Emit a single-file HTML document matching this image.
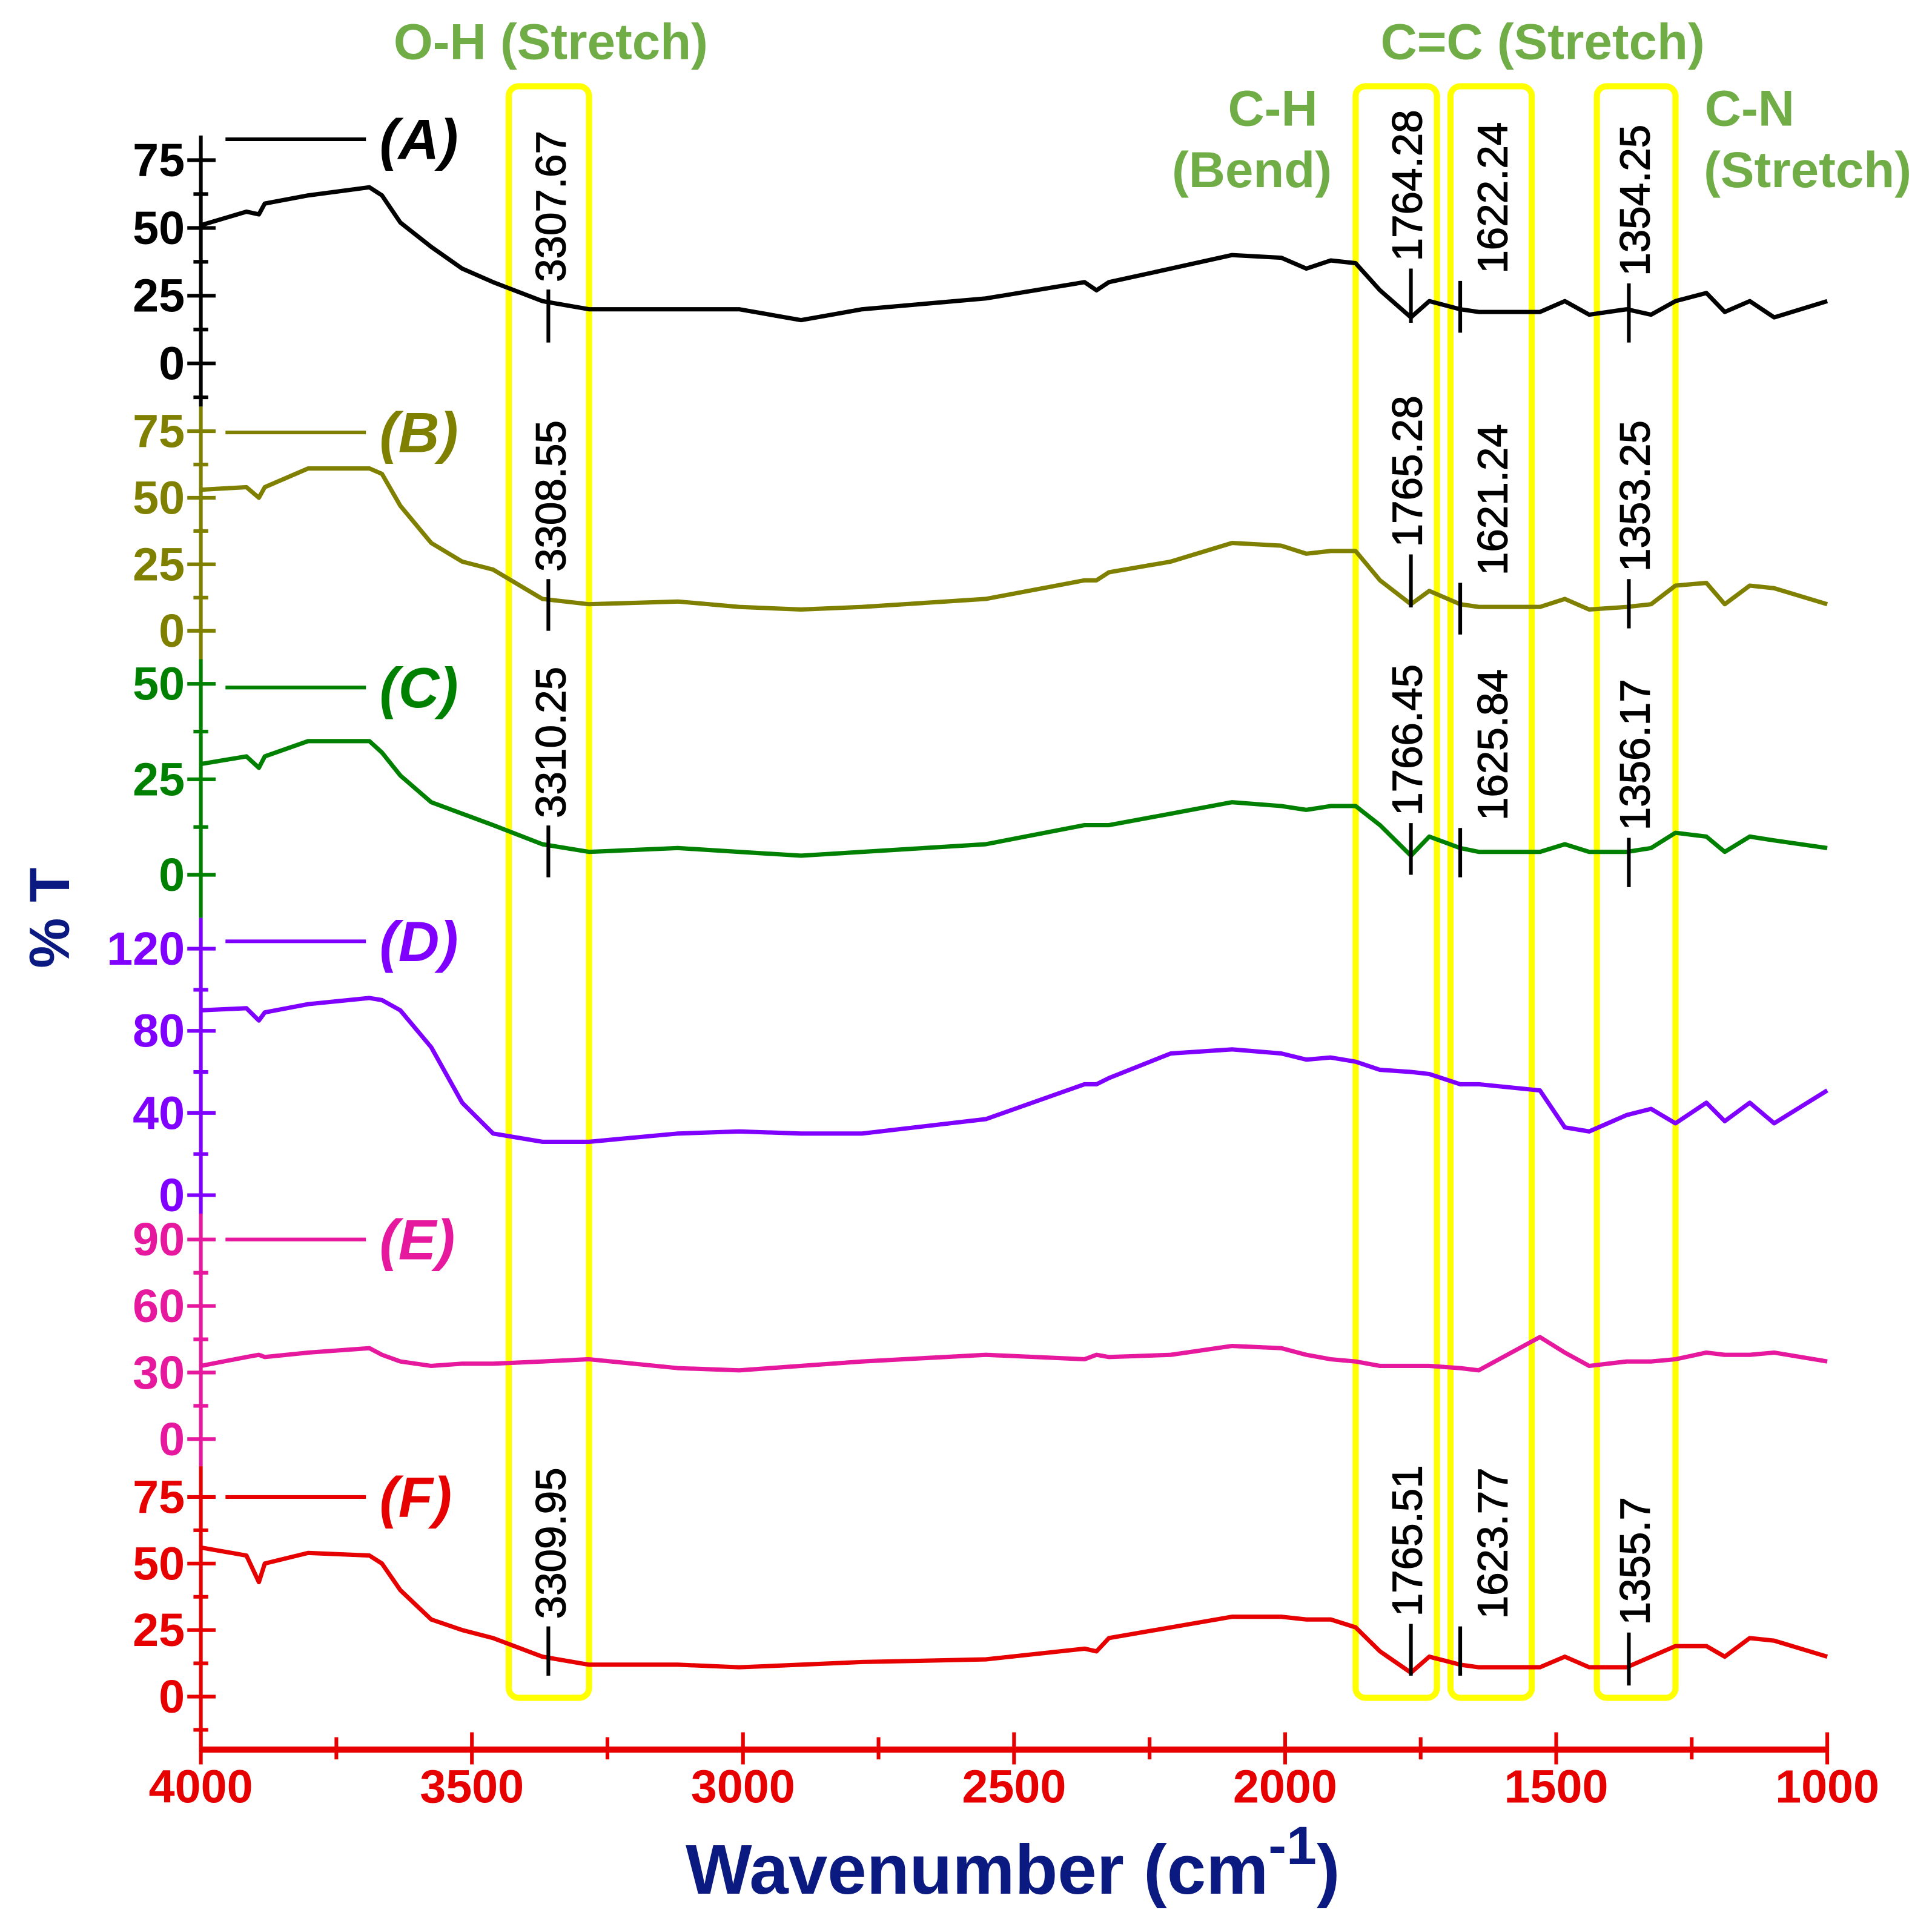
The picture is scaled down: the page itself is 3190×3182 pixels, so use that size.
<!DOCTYPE html>
<html><head><meta charset="utf-8"><style>
html,body{margin:0;padding:0;background:#fff;}
svg{display:block;}
text{font-family:"Liberation Sans",Arial,sans-serif;}
</style></head><body>
<svg id="chart" xmlns="http://www.w3.org/2000/svg" width="3190" height="3182" viewBox="0 0 1568 1564" preserveAspectRatio="none">
<g id="boxes"></g>
<g id="plot"></g>
<text x="447" y="48" text-anchor="middle" font-size="41" font-weight="bold" fill="#70ad47">O-H (Stretch)</text>
<text x="1252" y="48" text-anchor="middle" font-size="41" font-weight="bold" fill="#70ad47">C=C (Stretch)</text>
<text x="1033" y="102" text-anchor="middle" font-size="41" font-weight="bold" fill="#70ad47">C-H</text>
<text x="1016" y="152" text-anchor="middle" font-size="41" font-weight="bold" fill="#70ad47">(Bend)</text>
<text x="1420" y="102" text-anchor="middle" font-size="41" font-weight="bold" fill="#70ad47">C-N</text>
<text x="1467" y="152" text-anchor="middle" font-size="41" font-weight="bold" fill="#70ad47">(Stretch)</text>
<text transform="translate(56,745) rotate(-90)" text-anchor="middle" font-size="46" font-weight="900" fill="#0a1a80">% T</text>
<text x="822" y="1537" text-anchor="middle" font-size="57" font-weight="900" fill="#0a1a80">Wavenumber (cm<tspan dy="-24" font-size="44">-1</tspan><tspan dy="24">)</tspan></text>
</svg>
<script>
// shared wavenumber grid (cm-1)
const wn = [4000,3916,3893,3882,3802,3689,3666,3632,3575,3518,3461,3370,3284,3120,3007,2893,2780,2552,2370,2348,2325,2211,2098,2007,1961,1916,1870,1825,1768,1734,1677,1643,1530,1484,1439,1370,1325,1280,1223,1189,1143,1098,1000];
const seriesA = [51,56,55,59,62,65,62,52,43,35,30,23,20,20,20,16,20,24,30,27,30,35,40,39,35,38,37,27,17,23,20,19,19,23,18,20,18,23,26,19,23,17,23];
const seriesB = [53,54,50,54,61,61,59,47,33,26,23,12,10,11,9,8,9,12,19,19,22,26,33,32,29,30,30,19,10,15,10,9,9,12,8,9,10,17,18,10,17,16,10];
const seriesC = [29,31,28,31,35,35,32,26,19,16,13,8,6,7,6,5,6,8,13,13,13,16,19,18,17,18,18,13,5,10,7,6,6,8,6,6,7,11,10,6,10,9,7];
const seriesD = [90,91,85,89,93,96,95,90,72,45,30,26,26,30,31,30,30,37,54,54,57,69,71,69,66,67,65,61,60,59,54,54,51,33,31,39,42,35,45,36,45,35,51];
const seriesE = [33,37,38,37,39,41,38,35,33,34,34,35,36,32,31,33,35,38,36,38,37,38,42,41,38,36,35,33,33,33,32,31,46,39,33,35,35,36,39,38,38,39,35];
const seriesF = [56,53,43,50,54,53,50,40,29,25,22,15,12,12,11,12,13,14,18,17,22,26,30,30,29,29,26,17,9,15,12,11,11,15,11,11,15,19,19,15,22,21,15];
const xTicks = [4000,3500,3000,2500,2000,1500,1000];
const seriesNames = ["(A)","(B)","(C)","(D)","(E)","(F)"];
const seriesColors = ["#000000","#808000","#008000","#7f00ff","#e6199e","#e60000"];
const yTicksA=[0,25,50,75], yTicksB=[0,25,50,75], yTicksC=[0,25,50], yTicksD=[0,40,80,120], yTicksE=[0,30,60,90], yTicksF=[0,25,50,75];
// peak annotations: labels and marker wavenumbers
const peakLabelsA=["3307.67","1764.28","1622.24","1354.25"];
const peakLabelsB=["3308.55","1765.28","1621.24","1353.25"];
const peakLabelsC=["3310.25","1766.45","1625.84","1356.17"];
const peakLabelsF=["3309.95","1765.51","1623.77","1355.7"];
const peakMarkWn=[3359,1768,1677,1366];
const peakLabelWn=[3355,1775,1618,1355];

const NS="http://www.w3.org/2000/svg";
const plot=document.getElementById('plot');
const boxes=document.getElementById('boxes');
const X0=163,X1=1483;
function xs(w){return X0+(4000-w)*(X1-X0)/3000;}
function mk(tag,attrs,parent){const e=document.createElementNS(NS,tag);for(const k in attrs)e.setAttribute(k,attrs[k]);(parent||plot).appendChild(e);return e;}

const panels=[
 {d:seriesA,t:yTicksA,y0:295,top:130,seg:[110,330],leg:113,pk:peakLabelsA,pl:[[235,278],[218,262],[228,270],[230,278]]},
 {d:seriesB,t:yTicksB,y0:512,top:350,seg:[330,535],leg:351,pk:peakLabelsB,pl:[[470,512],[450,493],[473,515],[470,510]]},
 {d:seriesC,t:yTicksC,y0:710,top:555,seg:[535,745],leg:558,pk:peakLabelsC,pl:[[670,712],[668,710],[672,712],[680,720]]},
 {d:seriesD,t:yTicksD,y0:970,top:770,seg:[745,985],leg:764,pk:null},
 {d:seriesE,t:yTicksE,y0:1168,top:1006,seg:[985,1190],leg:1006,pk:null},
 {d:seriesF,t:yTicksF,y0:1377,top:1215,seg:[1190,1420],leg:1215,pk:peakLabelsF,pl:[[1320,1360],[1318,1360],[1320,1360],[1325,1368]]}
];

// yellow boxes
const boxWn=[[3432,3284],[1870,1720],[1695,1545],[1425,1280]];
boxWn.forEach((b,i)=>{
  const r=mk('rect',{x:xs(b[0]),y:70,width:xs(b[1])-xs(b[0]),height:1308,rx:8,fill:'none',stroke:'#ffff00','stroke-width':5},boxes);
  
  
});

panels.forEach((p,i)=>{
  const col=seriesColors[i];
  const maxT=p.t[p.t.length-1];
  const sc=(p.y0-p.top)/maxT;
  const ys=v=>p.y0-v*sc;
  const ax=mk('line',{x1:X0,x2:X0,y1:p.seg[0],y2:p.seg[1],stroke:col,'stroke-width':3});
  
  
  const step=p.t[1]-p.t[0];
  for(let v=-step;v<=maxT+step/2;v+=step/2){
    const y=ys(v); if(y<p.seg[0]-1||y>p.seg[1]+1) continue;
    const major=Number.isInteger(v/step)&&v>=0;
    mk('line',{x1:major?152:157,x2:major?175:169,y1:y,y2:y,stroke:col,'stroke-width':3});
  }
  p.t.forEach(v=>{
    const tl=mk('text',{x:150,y:ys(v)+13,'text-anchor':'end','font-size':38,'font-weight':'bold',fill:col});
    tl.textContent=v;
    
    
  });
  const pts=wn.map((w,k)=>xs(w).toFixed(1)+','+ys(p.d[k]).toFixed(1)).join(' ');
  const pl=mk('polyline',{points:pts,fill:'none',stroke:col,'stroke-width':3.5,'stroke-linejoin':'round'});
  
  
  const ll=mk('line',{x1:183,x2:297,y1:p.leg,y2:p.leg,stroke:col,'stroke-width':3});
  
  
  const lt=mk('text',{x:308,y:p.leg+16,'font-size':46,'font-weight':'bold','font-style':'italic',fill:col});
  lt.textContent=seriesNames[i];
  
  
  if(p.pk){
    p.pk.forEach((lab,k)=>{
      const mx=xs(peakMarkWn[k]);
      const m=mk('line',{x1:mx,x2:mx,y1:p.pl[k][0],y2:p.pl[k][1],stroke:'#000','stroke-width':3});
      
      
      const lx=xs(peakLabelWn[k])+12, ly=p.pl[k][0]-6;
      const t=mk('text',{transform:`translate(${lx},${ly}) rotate(-90)`,'font-size':34,fill:'#000',stroke:'#000','stroke-width':0.6});
      t.textContent=lab;
      
      
    });
  }
});

const xa=mk('line',{x1:X0,x2:X1,y1:1420,y2:1420,stroke:'#e60000','stroke-width':5});


for(let w=4000;w>=1000;w-=250){
  const major=w%500===0;
  mk('line',{x1:xs(w),x2:xs(w),y1:major?1406:1410,y2:major?1432:1428,stroke:'#e60000','stroke-width':3});
}
xTicks.forEach(w=>{
  const t=mk('text',{x:xs(w),y:1463,'text-anchor':'middle','font-size':38,'font-weight':'bold',fill:'#e60000'});
  t.textContent=w;
  
  
});
</script>
</body></html>
